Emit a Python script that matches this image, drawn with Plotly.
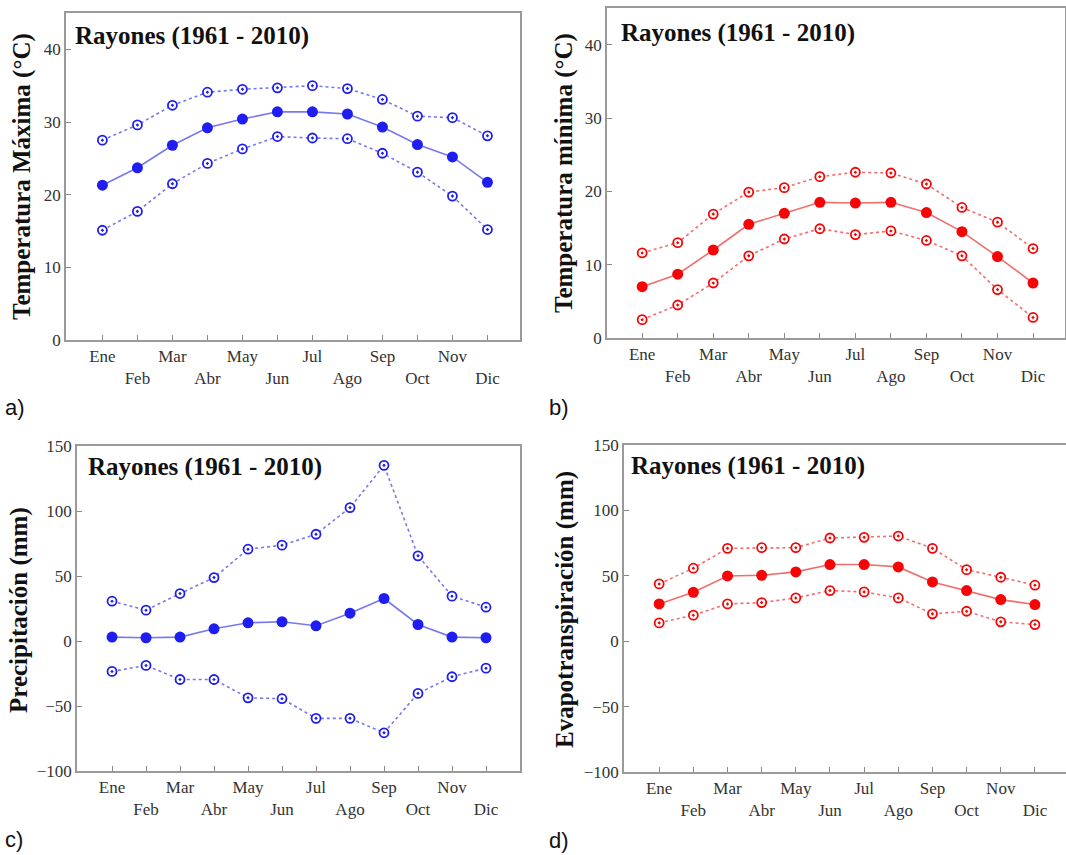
import plotly.graph_objects as go

W, H = 1066, 855

months = ["Ene", "Feb", "Mar", "Abr", "May", "Jun", "Jul", "Ago", "Sep", "Oct", "Nov", "Dic"]
tick_labels = [m if i % 2 == 0 else "<br>" + m for i, m in enumerate(months)]

tmax_mean = [21.3, 23.7, 26.8, 29.2, 30.4, 31.4, 31.4, 31.1, 29.3, 26.9, 25.2, 21.7]
tmax_upper = [27.5, 29.6, 32.3, 34.1, 34.5, 34.7, 35.0, 34.6, 33.1, 30.8, 30.6, 28.1]
tmax_lower = [15.1, 17.7, 21.5, 24.3, 26.3, 28.0, 27.8, 27.7, 25.7, 23.1, 19.8, 15.2]

tmin_mean = [7.0, 8.7, 12.0, 15.5, 17.0, 18.5, 18.4, 18.5, 17.1, 14.5, 11.1, 7.5]
tmin_upper = [11.6, 13.0, 16.9, 19.9, 20.5, 22.0, 22.6, 22.5, 21.0, 17.8, 15.8, 12.2]
tmin_lower = [2.5, 4.5, 7.5, 11.2, 13.5, 14.9, 14.1, 14.6, 13.3, 11.2, 6.6, 2.8]

prec_mean = [3.0, 2.5, 3.0, 9.4, 14.0, 14.8, 11.7, 21.4, 32.7, 12.7, 3.0, 2.5]
prec_upper = [30.6, 23.7, 36.5, 48.8, 70.6, 73.7, 82.1, 102.6, 135.1, 65.5, 34.5, 26.0]
prec_lower = [-23.4, -18.8, -29.6, -29.6, -43.7, -44.4, -59.5, -59.5, -70.6, -40.3, -27.5, -20.9]

evap_mean = [28.5, 37.4, 49.9, 50.4, 53.0, 58.6, 58.6, 56.8, 45.3, 38.7, 31.8, 28.0]
evap_upper = [43.8, 55.8, 71.0, 71.5, 71.5, 78.9, 79.4, 80.4, 71.0, 54.7, 48.9, 42.8]
evap_lower = [14.0, 19.9, 28.5, 29.5, 33.1, 38.7, 37.7, 33.1, 20.9, 22.9, 14.8, 12.7]

title_text = "Rayones (1961 - 2010)"

BLUE = "rgb(30,30,240)"
BLUE_L = "rgb(120,120,238)"
RED = "rgb(245,5,5)"
RED_L = "rgb(240,110,110)"

SERIF = "Liberation Serif, Times New Roman, serif"

def fx(p):
    return p / W

def fy(p):
    return 1 - p / H

# panel geometry in pixels: (left, right, top, bottom), x-range, y-range
panels = [
    dict(box=(66, 520, 13, 340), xr=[-1.04, 11.93], yr=[0, 45], dtick=10,
         ytitle="Temperatura Máxima (°C)", ytpos=(22, 177), tpos=(73, 36), lab=("a)", 3, 407),
         data=(tmax_mean, tmax_upper, tmax_lower), c=(BLUE, BLUE_L)),
    dict(box=(607, 1065, 8, 338), xr=[-0.99, 11.9], yr=[0, 45], dtick=10,
         ytitle="Temperatura mínima (°C)", ytpos=(564, 173), tpos=(619, 33), lab=("b)", 547, 407),
         data=(tmin_mean, tmin_upper, tmin_lower), c=(RED, RED_L)),
    dict(box=(77, 520, 446, 771), xr=[-1.03, 12.0], yr=[-100, 150], dtick=50,
         ytitle="Precipitación (mm)", ytpos=(19, 610), tpos=(86, 467), lab=("c)", 3, 839),
         data=(prec_mean, prec_upper, prec_lower), c=(BLUE, BLUE_L)),
    dict(box=(624, 1066, 445, 772), xr=[-1.03, 11.91], yr=[-100, 150], dtick=50,
         ytitle="Evapotranspiración (mm)", ytpos=(565, 610), tpos=(629, 466), lab=("d)", 547, 840),
         data=(evap_mean, evap_upper, evap_lower), c=(RED, RED_L)),
]

fig = go.Figure()
layout = dict(
    width=W, height=H, margin=dict(l=0, r=0, t=0, b=0, pad=0, autoexpand=False),
    paper_bgcolor="white", plot_bgcolor="white", showlegend=False,
    annotations=[],
)

xs = list(range(12))
for i, p in enumerate(panels):
    n = "" if i == 0 else str(i + 1)
    xa, ya = "x" + n, "y" + n
    mean, up, lo = p["data"]
    col, coll = p["c"]
    for arr in (up, lo):
        fig.add_trace(go.Scatter(
            x=xs, y=arr, xaxis=xa, yaxis=ya, mode="lines+markers",
            line=dict(color=coll, width=1.6, dash="dot"),
            marker=dict(symbol="circle-dot", size=9, color="white",
                        line=dict(color=col, width=1.8)),
            hoverinfo="skip", cliponaxis=False))
    fig.add_trace(go.Scatter(
        x=xs, y=mean, xaxis=xa, yaxis=ya, mode="lines+markers",
        line=dict(color=coll, width=1.6),
        marker=dict(symbol="circle", size=11, color=col),
        hoverinfo="skip", cliponaxis=False))

    l, r, t, b = p["box"]
    axcommon = dict(showline=True, linecolor="#9a9a9a", linewidth=1.5, mirror=True,
                    ticks="inside", ticklen=5, tickcolor="#888", tickwidth=1,
                    showgrid=False, zeroline=False, automargin=False,
                    tickfont=dict(family=SERIF, size=17, color="#333"))
    layout["xaxis" + n] = dict(axcommon, domain=[fx(l), fx(r)], anchor=ya,
                               range=p["xr"], tickmode="array", tickvals=xs,
                               ticktext=tick_labels)
    layout["yaxis" + n] = dict(axcommon, domain=[fy(b), fy(t)], anchor=xa,
                               range=p["yr"], dtick=p["dtick"], tick0=0)

    layout["annotations"].append(dict(
        text="<b>" + p["ytitle"] + "</b>", textangle=-90, xref="paper", yref="paper",
        x=fx(p["ytpos"][0]), y=fy(p["ytpos"][1]), xanchor="center", yanchor="middle",
        showarrow=False, font=dict(family=SERIF, size=25, color="#111")))
    layout["annotations"].append(dict(
        text="<b>" + title_text + "</b>", xref="paper", yref="paper",
        x=fx(p["tpos"][0]), y=fy(p["tpos"][1]), xanchor="left", yanchor="middle",
        showarrow=False, font=dict(family=SERIF, size=25, color="#111")))
    layout["annotations"].append(dict(
        text=p["lab"][0], xref="paper", yref="paper",
        x=fx(p["lab"][1]), y=fy(p["lab"][2]), xanchor="left", yanchor="middle",
        showarrow=False, font=dict(family="Liberation Sans, Arial, sans-serif", size=22, color="#111")))

fig.update_layout(**layout)
fig.write_html("out.html", config={"displayModeBar": False},
               post_script="document.body.style.margin='0';document.body.style.overflow='hidden';")
